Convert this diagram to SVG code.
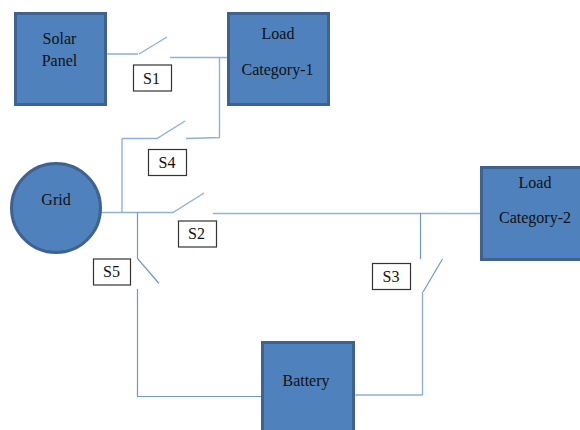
<svg xmlns="http://www.w3.org/2000/svg" width="580" height="430" viewBox="0 0 580 430">
<style>
.n{fill:#4f81bd;stroke:#3f6291;stroke-width:3}
.l{fill:#fff;stroke:#333;stroke-width:1.2}
.c{fill:none;stroke:#8fb0dc;stroke-width:1.4}
.d{fill:none;stroke:#6f98cf;stroke-width:1.2}
text{font-family:"Liberation Serif",serif;font-size:16px;fill:#111;text-anchor:middle}
</style>
<rect width="580" height="430" fill="#fff"/>
<g id="connectors">
<path class="c" d="M107 54H138M139 54L167 37M170 57.500H228"/>
<path class="c" d="M219.500 58V137.500L186 138.500"/>
<path class="c" d="M122 138.500H157L185 121"/>
<path class="c" d="M122 139V212"/>
<path class="c" d="M101 212.500H173L204 193"/>
<path class="c" d="M213 213.500H482"/>
<path class="d" d="M137.500 212V258.500L159 283.500"/>
<path class="d" d="M137.500 289V396.500H262"/>
<path class="d" d="M420.500 213V259"/>
<path class="d" d="M442.500 259L423 292"/>
<path class="c" d="M422.500 292V395.500"/>
<path class="c" d="M353 395H422.500"/>
</g>
<g id="solar-panel"><rect class="n" x="15.500" y="13.500" width="90" height="91"/><text x="59.500" y="44">Solar</text><text x="59.500" y="65.500">Panel</text></g>
<g id="load-1"><rect class="n" x="228.500" y="13.500" width="100" height="91"/><text x="278" y="39">Load</text><text x="277.500" y="75">Category-1</text></g>
<g id="grid"><circle class="n" cx="56" cy="208" r="44.500"/><text x="56" y="205">Grid</text></g>
<g id="load-2"><rect class="n" x="481.500" y="167.500" width="100" height="92"/><text x="535" y="188">Load</text><text x="535" y="222.500">Category-2</text></g>
<g id="battery"><rect class="n" x="262.500" y="342.500" width="91" height="90"/><text x="306" y="386">Battery</text></g>
<g id="s1"><rect class="l" x="133.500" y="65" width="38" height="26"/><text x="151.500" y="84">S1</text></g>
<g id="s4"><rect class="l" x="148.500" y="149.500" width="38" height="26"/><text x="167" y="168">S4</text></g>
<g id="s2"><rect class="l" x="178.500" y="221" width="38" height="26"/><text x="196.500" y="239">S2</text></g>
<g id="s5"><rect class="l" x="93.500" y="259" width="37" height="26"/><text x="111.500" y="277">S5</text></g>
<g id="s3"><rect class="l" x="372.500" y="263.500" width="38" height="26"/><text x="391" y="282">S3</text></g>
</svg>
